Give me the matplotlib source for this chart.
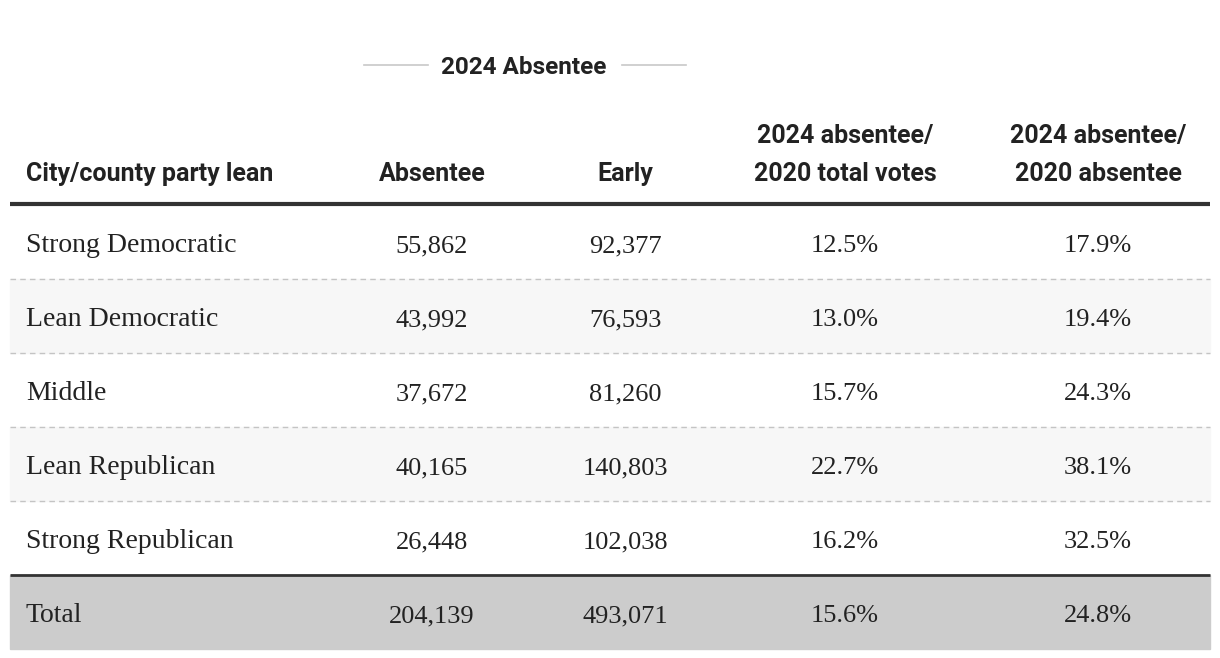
import matplotlib.pyplot as plt
from matplotlib.patches import Rectangle

# table content
group_title = '2024 Absentee'
col_headers = ['City/county party lean', 'Absentee', 'Early',
               '2024 absentee/\n2020 total votes', '2024 absentee/\n2020 absentee']
leans = ['Strong Democratic', 'Lean Democratic', 'Middle', 'Lean Republican', 'Strong Republican']
absentee = [55862, 43992, 37672, 40165, 26448]
early = [92377, 76593, 81260, 140803, 102038]
share_total = [12.5, 13.0, 15.7, 22.7, 16.2]
share_absentee = [17.9, 19.4, 24.3, 38.1, 32.5]
total_row = ['Total', 204139, 493071, 15.6, 24.8]

W, H = 1220, 658
fig = plt.figure(figsize=(12.2, 6.58), dpi=100)
ax = fig.add_axes([0, 0, 1, 1])
ax.set_xlim(0, W)
ax.set_ylim(H, 0)
ax.axis('off')

head_font = ['Roboto', 'DejaVu Sans']
body_font = ['Liberation Serif', 'DejaVu Serif']
col_x = [26, 432, 625, 845, 1098]
left, right = 10, 1210
row_top = 205
row_h = 74

# group header with side rules
ax.text(524, 68, group_title, ha='center', va='center', fontsize=17.5,
        fontweight='bold', family=head_font, color='#222222')
ax.plot([364, 428], [65, 65], color='#c8c8c8', lw=1.2)
ax.plot([622, 686], [65, 65], color='#c8c8c8', lw=1.2)

# column headers
for i, h in enumerate(col_headers):
    ax.text(col_x[i], 181, h, ha='left' if i == 0 else 'center', va='baseline',
            fontsize=18, fontweight='bold', family=head_font, color='#222222',
            linespacing=1.72)
ax.plot([left, right], [row_top - 1, row_top - 1], color='#333333', lw=3, solid_capstyle='butt')


def fmt_row(lean, a, e, s1, s2):
    return [lean, f'{a:,}', f'{e:,}', f'{s1:.1f}%', f'{s2:.1f}%']


rows = [fmt_row(*r) for r in zip(leans, absentee, early, share_total, share_absentee)]
rows.append(fmt_row(*total_row))

for r, cells in enumerate(rows):
    y0 = row_top + r * row_h
    yc = y0 + row_h / 2
    if r == len(rows) - 1:
        ax.add_patch(Rectangle((left, y0), right - left, row_h, color='#cccccc', zorder=0))
        ax.plot([left, right], [y0, y0], color='#333333', lw=2, solid_capstyle='butt')
    elif r % 2 == 1:
        ax.add_patch(Rectangle((left, y0), right - left, row_h, color='#f7f7f7', zorder=0))
    if 0 < r < len(rows) - 1:
        ax.plot([left, right], [y0, y0], color='#c4c4c4', lw=1, ls=(0, (4, 3)))
    for i, c in enumerate(cells):
        ax.text(col_x[i], yc + 10, c, ha='left' if i == 0 else 'center', va='baseline',
                fontsize=20 if i == 0 else 19, family=body_font, color='#222222')

fig.savefig('out.png', dpi=100, facecolor='white')
